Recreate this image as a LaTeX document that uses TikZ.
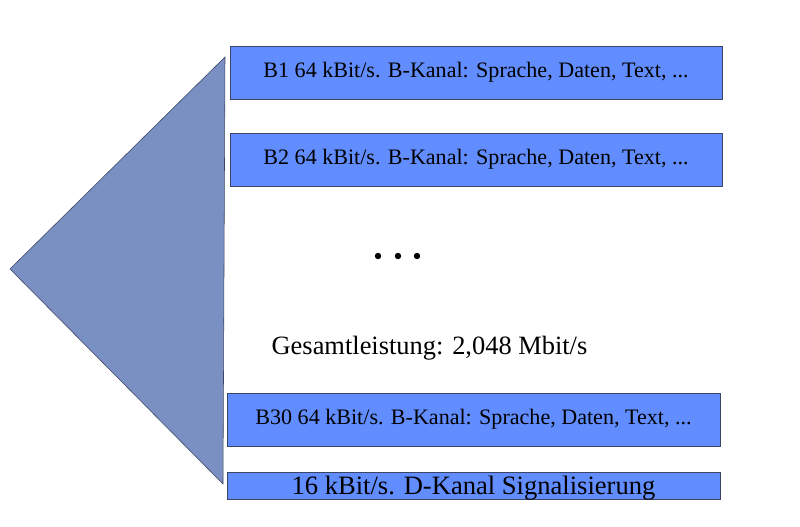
\documentclass[tikz,border=0pt]{standalone}
\usepackage{fontspec}
\setmainfont{Liberation Serif}
\usepackage{tikz}
\definecolor{chanblue}{RGB}{98,141,255}
\definecolor{wedgeblue}{RGB}{122,143,194}
\definecolor{chanline}{RGB}{60,70,100}
\begin{document}
\begin{tikzpicture}
			\tikzset{chan/.style = {shape=rectangle,draw=chanline,fill=chanblue,minimum width=12.3cm,minimum height=1.325cm,inner sep=0pt,font=\fontsize{15.7}{18}\selectfont}}
			\tikzset{dot/.style = {shape=circle,fill=black,inner sep=0pt,minimum size=0.16cm}}
			\useasboundingbox (0,0) rectangle (20,-13.15);
			% wedge
			\coordinate (tip) at (0.25,-6.725);
			\coordinate (top) at (5.625,-1.425);
			\coordinate (bot) at (5.575,-12.1);
			\draw[draw=chanline,fill=wedgeblue] (tip) -- (top) -- (bot) -- cycle;
			% channels
			\node[chan] (b1) at (11.9,-1.8125) {B1 64 kBit/s. B-Kanal: Sprache, Daten, Text, ...};
			\node[chan] (b2) at (11.9,-3.9875) {B2 64 kBit/s. B-Kanal: Sprache, Daten, Text, ...};
			\node[chan,minimum width=12.325cm] (b30) at (11.8375,-10.4875) {B30 64 kBit/s. B-Kanal: Sprache, Daten, Text, ...};
			\node[chan,minimum width=12.325cm,minimum height=0.675cm,text depth=0pt,font=\fontsize{18.9}{19}\selectfont] (dk) at (11.8375,-12.1375) {16 kBit/s. D-Kanal Signalisierung};
			% dots and total
			\node[dot] (d1) at (9.45,-6.4) {};
			\node[dot] (d2) at (9.95,-6.4) {};
			\node[dot] (d3) at (10.425,-6.4) {};
			\node[font=\fontsize{18.8}{20}\selectfont] (sum) at (10.7375,-8.7) {Gesamtleistung: 2,048 Mbit/s};
		\end{tikzpicture}
\end{document}
